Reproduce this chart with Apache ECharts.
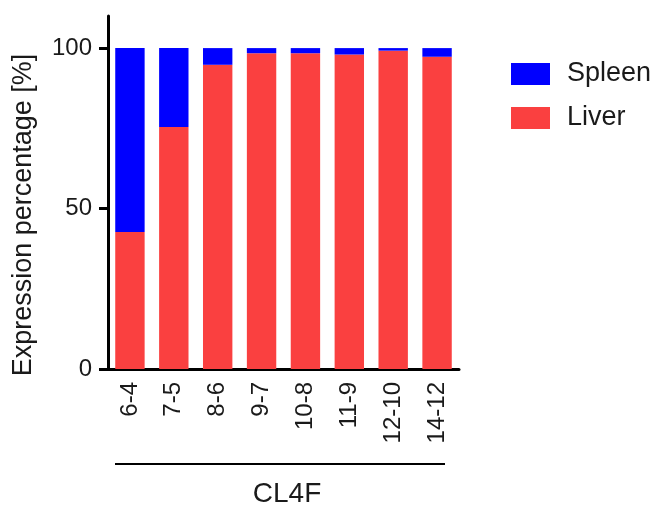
<!DOCTYPE html>
<html>
<head>
<meta charset="utf-8">
<script src="https://cdn.jsdelivr.net/npm/echarts@6/dist/echarts.min.js"></script>
<style>
html,body{margin:0;padding:0;background:#fff;}
#chart{width:657px;height:506px;}
</style>
</head>
<body>
<div id="chart"></div>
<script>
const categories = ['6-4', '7-5', '8-6', '9-7', '10-8', '11-9', '12-10', '14-12'];
const liver = [42.7, 75.4, 94.8, 98.4, 98.4, 98.0, 99.2, 97.3];
const spleen = [57.3, 24.6, 5.2, 1.6, 1.6, 2.0, 0.8, 2.7];
const yTicks = [0, 50, 100];
const groupLabel = 'CL4F';
const yTitle = 'Expression percentage [%]';

const FONT = '"Liberation Sans", Arial, sans-serif';
const TXT = '#1a1a1a';

const chart = echarts.init(document.getElementById('chart'), null, {renderer: 'canvas'});
chart.setOption({
  animation: false,
  backgroundColor: '#fff',
  textStyle: {fontFamily: FONT, color: TXT},
  grid: {left: 108, right: 198, top: 16, bottom: 137},
  legend: {
    orient: 'vertical', left: 506, top: 52,
    itemWidth: 39, itemHeight: 22, itemGap: 10,
    icon: 'rect',
    data: ['Spleen', 'Liver'],
    textStyle: {fontSize: 27, fontFamily: FONT, color: TXT, padding: [0, 0, 0, 12], lineHeight: 34}
  },
  xAxis: {
    type: 'category',
    data: categories,
    axisLine: {lineStyle: {color: '#000', width: 3}},
    axisTick: {alignWithLabel: true, length: 9, lineStyle: {color: '#000', width: 3}},
    axisLabel: {rotate: 90, margin: 13, fontSize: 24, fontFamily: FONT, color: TXT, interval: 0}
  },
  yAxis: {
    type: 'value', min: 0, max: 110, interval: 50,
    splitLine: {show: false},
    axisLine: {show: true, lineStyle: {color: '#000', width: 3}},
    axisTick: {show: true, length: 9, lineStyle: {color: '#000', width: 3}, customValues: yTicks},
    axisLabel: {margin: 16, fontSize: 24, fontFamily: FONT, color: TXT, customValues: yTicks}
  },
  series: [
    {name: 'Liver', type: 'bar', stack: 'total', data: liver, barWidth: '67%',
     itemStyle: {color: '#fa4040'}},
    {name: 'Spleen', type: 'bar', stack: 'total', data: spleen, barWidth: '67%',
     itemStyle: {color: '#0000ff'}}
  ],
  graphic: [
    {type: 'text', x: 24, y: 215, rotation: Math.PI / 2,
     style: {text: yTitle, font: '27px ' + FONT, fill: TXT, align: 'center', verticalAlign: 'middle'}},
    {type: 'line', shape: {x1: 115, y1: 464, x2: 445, y2: 464}, style: {stroke: '#000', lineWidth: 2}},
    {type: 'text', x: 287, y: 494,
     style: {text: groupLabel, font: '28px ' + FONT, fill: TXT, align: 'center', verticalAlign: 'middle'}}
  ]
});
</script>
</body>
</html>
